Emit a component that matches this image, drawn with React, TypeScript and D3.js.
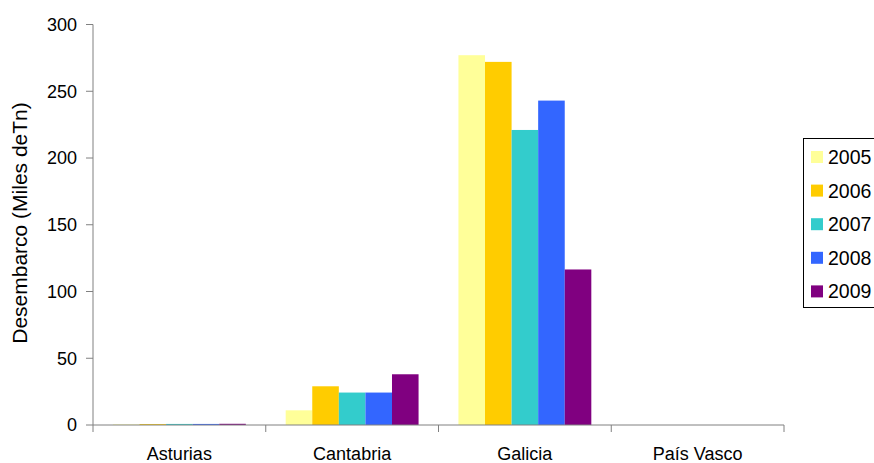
import React from "react";
import * as d3 from "d3";

const categories = ["Asturias", "Cantabria", "Galicia", "País Vasco"];
const years = ["2005", "2006", "2007", "2008", "2009"];
const colors = ["#FFFF99", "#FFCC00", "#33CCCC", "#3366FF", "#800080"];
const values2005 = [0.4, 11, 277, 0];
const values2006 = [0.7, 29, 272, 0];
const values2007 = [0.8, 24.3, 221, 0];
const values2008 = [0.8, 24.3, 243, 0];
const values2009 = [0.9, 38, 116.5, 0];
const series = [values2005, values2006, values2007, values2008, values2009];
const yTicks = [0, 50, 100, 150, 200, 250, 300];
const yTitle = "Desembarco (Miles deTn)";

export default function App() {
  const W = 874, H = 463;
  const left = 93, right = 784, top = 24.5, bottom = 425;
  const x = d3.scaleBand().domain(categories).range([left, right]).paddingInner(0).paddingOuter(0);
  const y = d3.scaleLinear().domain([0, 300]).range([bottom, top]);
  const bw = x.bandwidth() / 6.5;
  const axisColor = "#808080";
  const font = "Liberation Sans, Arial, sans-serif";
  return (
    <svg width={W} height={H} style={{ position: "absolute", left: 0, top: 0, background: "#fff" }} fontFamily={font}>
      {categories.map((c, ci) =>
        series.map((s, si) => {
          const x0 = (x(c) as number) + bw * 0.75 + si * bw;
          const v = s[ci];
          if (v <= 0) return null;
          return <rect key={c + si} x={x0} y={y(v)} width={bw} height={bottom - y(v)} fill={colors[si]} />;
        })
      )}
      <line x1={left} x2={left} y1={top} y2={bottom} stroke={axisColor} strokeWidth={1} />
      <line x1={left} x2={right} y1={bottom} y2={bottom} stroke={axisColor} strokeWidth={1} />
      {yTicks.map((t) => (
        <g key={t}>
          <line x1={left - 7} x2={left} y1={y(t)} y2={y(t)} stroke={axisColor} />
          <text x={left - 16} y={y(t)} dy="0.35em" textAnchor="end" fontSize={18} fill="#000">{t}</text>
        </g>
      ))}
      {[...categories.map((c) => x(c) as number), right].map((p, i) => (
        <line key={i} x1={p} x2={p} y1={bottom} y2={bottom + 7} stroke={axisColor} />
      ))}
      {categories.map((c) => (
        <text key={c} x={(x(c) as number) + x.bandwidth() / 2} y={460} textAnchor="middle" fontSize={18} fill="#000">{c}</text>
      ))}
      <text transform={`translate(27,223) rotate(-90)`} textAnchor="middle" fontSize={21} fill="#000">{yTitle}</text>
      <rect x={803.5} y={138.5} width={80} height={169} fill="#fff" stroke="#000" strokeWidth={1} />
      {years.map((yr, i) => (
        <g key={yr}>
          <rect x={811} y={151 + i * 33.6} width={12} height={12} fill={colors[i]} />
          <text x={828} y={157 + i * 33.6} dy="0.36em" fontSize={19.5} fill="#000">{yr}</text>
        </g>
      ))}
    </svg>
  );
}
